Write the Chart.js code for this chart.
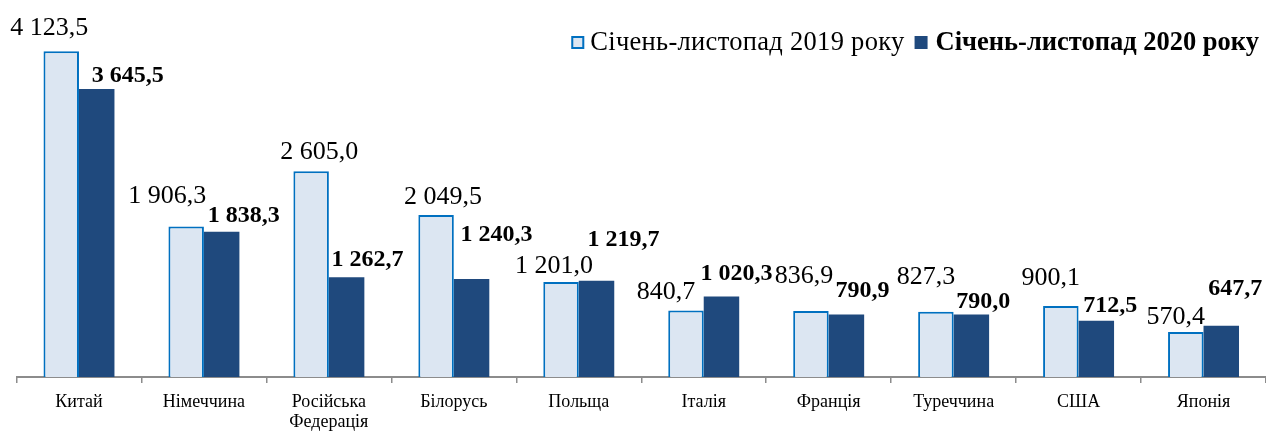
<!DOCTYPE html>
<html>
<head>
<meta charset="utf-8">
<script src="https://cdn.jsdelivr.net/npm/chart.js@4/dist/chart.umd.min.js"></script>
<style>
  html, body { margin: 0; padding: 0; background: #fff; }
  #wrap { position: relative; width: 1266px; height: 431px; }
</style>
</head>
<body>
<div id="wrap"><canvas id="chart"></canvas></div>
<script>
// data
var categories = ['Китай', 'Німеччина', ['Російська', 'Федерація'], 'Білорусь', 'Польща',
                  'Італія', 'Франція', 'Туреччина', 'США', 'Японія'];
var values2019 = [4123.5, 1906.3, 2605.0, 2049.5, 1201.0, 840.7, 836.9, 827.3, 900.1, 570.4];
var values2020 = [3645.5, 1838.3, 1262.7, 1240.3, 1219.7, 1020.3, 790.9, 790.0, 712.5, 647.7];
var seriesNames = ['Січень-листопад 2019 року', 'Січень-листопад 2020 року'];

var LIGHT = '#DCE6F2', LIGHT_EDGE = '#0070C0', DARK = '#1F497D', AXIS = '#8C8C8C';
var SERIF = "'Liberation Serif', 'Times New Roman', serif";

// hand placement of value labels, as in the source: [dx, dy] from bar centre / bar top
var nudge2019 = [[-12, -25], [-19, -32], [8, -21], [7, -20], [-7, -18],
                 [-20, -21], [-7, -37], [-10, -37], [-10, -30], [-10, -17]];
var nudge2020 = [[31, -15], [22, -18], [21, -19], [25, -46], [27, -43],
                 [15, -24], [16, -26], [12, -15], [14, -17], [14, -39]];

function fmt(v) {
  var s = v.toFixed(1).replace('.', ',');
  var parts = s.split(',');
  parts[0] = parts[0].replace(/\B(?=(\d{3})+(?!\d))/g, ' ');
  return parts.join(',');
}

var valueLabels = {
  id: 'valueLabels',
  afterDatasetsDraw: function (chart) {
    var ctx = chart.ctx;
    ctx.save();
    ctx.fillStyle = '#000';
    ctx.textAlign = 'center';
    ctx.textBaseline = 'alphabetic';
    [0, 1].forEach(function (di) {
      var meta = chart.getDatasetMeta(di);
      var vals = di === 0 ? values2019 : values2020;
      var nd = di === 0 ? nudge2019 : nudge2020;
      ctx.font = di === 1 ? 'bold 24px ' + SERIF : '26px ' + SERIF;
      var half = di === 1 ? 8 : 9;
      meta.data.forEach(function (bar, i) {
        ctx.fillText(fmt(vals[i]), bar.x + nd[i][0], bar.y + nd[i][1] + half);
      });
    });
    ctx.restore();
  }
};

var legendDraw = {
  id: 'legendDraw',
  afterDraw: function (chart) {
    var ctx = chart.ctx;
    ctx.save();
    ctx.textBaseline = 'alphabetic';
    ctx.textAlign = 'left';
    var base = 50, right = 1259;
    ctx.font = 'bold 26.5px ' + SERIF;
    var wb = ctx.measureText(seriesNames[1]).width;
    var xb = right - wb;
    ctx.fillStyle = '#000';
    ctx.fillText(seriesNames[1], xb, base);
    ctx.fillStyle = DARK;
    ctx.fillRect(xb - 21, 36, 13, 13);
    ctx.font = '26.5px ' + SERIF;
    ctx.letterSpacing = '0.3px';
    var wa = ctx.measureText(seriesNames[0]).width;
    var xa = xb - 31 - wa;
    ctx.fillStyle = '#000';
    ctx.fillText(seriesNames[0], xa, base);
    ctx.fillStyle = LIGHT;
    ctx.fillRect(xa - 19, 36, 13, 13);
    ctx.strokeStyle = LIGHT_EDGE;
    ctx.lineWidth = 2;
    ctx.strokeRect(xa - 18, 37, 11, 11);
    ctx.restore();
  }
};

new Chart(document.getElementById('chart'), {
  type: 'bar',
  data: {
    labels: categories,
    datasets: [{
      label: seriesNames[0],
      data: values2019,
      backgroundColor: LIGHT,
      borderColor: LIGHT_EDGE,
      borderWidth: 2
    }, {
      label: seriesNames[1],
      data: values2020,
      backgroundColor: DARK,
      borderWidth: 0
    }]
  },
  options: {
    responsive: true, maintainAspectRatio: false, animation: false,
    categoryPercentage: 0.568, barPercentage: 1,
    layout: { padding: { left: 16.5, right: 0, top: 21.5, bottom: 0 } },
    plugins: { legend: { display: false }, tooltip: { enabled: false } },
    scales: {
      x: {
        afterFit: function (s) { s.height = 54; },
        grid: { offset: true, drawOnChartArea: false, drawTicks: true, tickLength: 6, color: AXIS, lineWidth: 1.5 },
        border: { color: AXIS, width: 2 },
        ticks: { color: '#000', padding: 9, maxRotation: 0, autoSkip: false,
                 font: { family: SERIF, size: 18, lineHeight: 1.12 } }
      },
      y: { display: false, min: 0, max: 4500 }
    }
  },
  plugins: [valueLabels, legendDraw]
});
</script>
</body>
</html>
